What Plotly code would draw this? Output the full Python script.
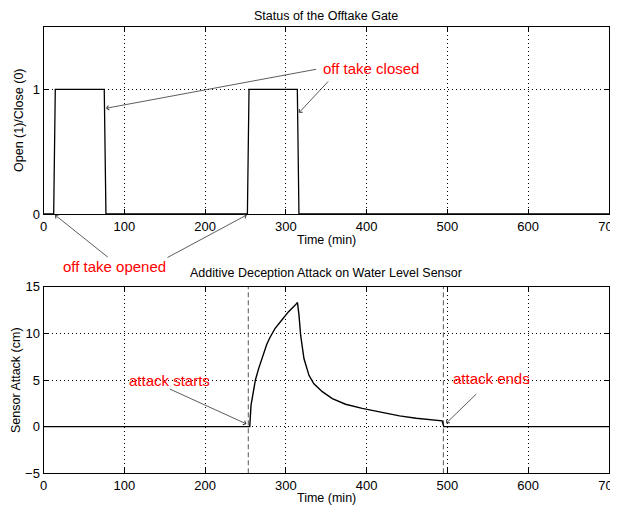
import plotly.graph_objects as go

# ---- data ----
gate_time = [0, 12.6, 14.6, 75.2, 77.3, 252.4, 254.4, 314.2, 316.2, 700]
gate_state = [0, 0, 1, 1, 0, 0, 1, 1, 0, 0]

attack_time = [0, 255.3, 256.9, 259.4, 262.3, 266.4, 272.6, 276.3, 280, 286.5, 294.8,
               303.1, 311.3, 314.4, 316.2, 318.3, 322.4, 328.6, 334.7, 345.1, 357.5,
               373.9, 394.5, 423.4, 440.7, 461.3, 481.8, 493.4, 495.5, 700]
attack_value = [0, 0, 2.3, 3.75, 5.0, 6.25, 7.86, 8.8, 9.5, 10.5, 11.4,
                12.3, 13.0, 13.3, 12.0, 9.8, 7.3, 5.5, 4.6, 3.75, 3.0,
                2.4, 1.96, 1.43, 1.15, 0.9, 0.72, 0.62, 0.0, 0]

attack_start = 253.5
attack_end = 495.0

x_ticks = [0, 100, 200, 300, 400, 500, 600, 700]
gate_ticks = [0, 1]
attack_ticks = [-5, 0, 5, 10, 15]

FONT = "Liberation Sans, Arial, Helvetica, sans-serif"
OFF = 8  # page body margin
W, H = 618 - OFF, 508 - OFF

fig = go.Figure()
fig.add_trace(go.Scatter(x=gate_time, y=gate_state, mode="lines",
                         line=dict(color="black", width=1.3),
                         xaxis="x", yaxis="y", showlegend=False))
for xv in (attack_start, attack_end):
    fig.add_trace(go.Scatter(x=[xv, xv], y=[attack_ticks[0], attack_ticks[-1]], mode="lines",
                             line=dict(color="#555555", width=1, dash="5px,3px"),
                             xaxis="x2", yaxis="y2", showlegend=False))
fig.add_trace(go.Scatter(x=attack_time, y=attack_value, mode="lines",
                         line=dict(color="black", width=1.4),
                         xaxis="x2", yaxis="y2", showlegend=False))

def px2paper_x(p):
    return (p - OFF) / W

def px2paper_y(p):
    return 1 - (p - OFF) / H

axis_common = dict(showline=True, linecolor="black", linewidth=1, mirror="allticks",
                   ticks="inside", ticklen=5, tickcolor="black",
                   showgrid=True, gridcolor="black", gridwidth=1, griddash="1px,3px",
                   zeroline=False, automargin=False, ticklabeloverflow="allow",
                   tickfont=dict(family=FONT, size=13, color="black"))

fig.update_layout(
    width=W, height=H, margin=dict(l=0, r=0, t=0, b=0),
    paper_bgcolor="white", plot_bgcolor="white",
    font=dict(family=FONT, size=12.5, color="black"),
    xaxis=dict(domain=[px2paper_x(43.5), px2paper_x(609)], range=[0, 700],
               tickvals=x_ticks, anchor="y", **axis_common),
    yaxis=dict(domain=[px2paper_y(214), px2paper_y(27)], range=[0, 1.5],
               tickvals=gate_ticks, anchor="x", **axis_common),
    xaxis2=dict(domain=[px2paper_x(43.5), px2paper_x(609)], range=[0, 700],
                tickvals=x_ticks, anchor="y2", **axis_common),
    yaxis2=dict(domain=[px2paper_y(473.3), px2paper_y(286.7)], range=[-5, 15],
                tickvals=attack_ticks, anchor="x2", **axis_common),
)

ann = []

def txt(x, y, s, size=12.5, color="black", angle=0):
    ann.append(dict(x=px2paper_x(x), y=px2paper_y(y), xref="paper", yref="paper",
                    text=s, showarrow=False, textangle=angle,
                    font=dict(family=FONT, size=size, color=color),
                    xanchor="center", yanchor="middle"))

txt(326, 15.5, "Status of the Offtake Gate")
txt(326, 240, "Time (min)")
txt(19.5, 120.5, "Open (1)/Close (0)", angle=-90)
txt(326, 272.5, "Additive Deception Attack on Water Level Sensor")
txt(326, 497.5, "Time (min)")
txt(16, 380, "Sensor Attack (cm)", angle=-90)

def red(x, y, s, xr, yr):
    ann.append(dict(x=x, y=y, xref=xr, yref=yr, text=s, showarrow=False,
                    font=dict(family=FONT, size=15, color="#ff0000"),
                    xanchor="center", yanchor="middle"))

red(406, 1.171, "off take closed", "x", "y")
red(156.4, 5.0, "attack starts", "x2", "y2")
red(554, 5.19, "attack ends", "x2", "y2")
# label between the panels (outside the axis ranges) placed in paper coordinates
ann.append(dict(x=px2paper_x(114.7), y=px2paper_y(266.7), xref="paper", yref="paper",
                text="off take opened", showarrow=False,
                font=dict(family=FONT, size=15, color="#ff0000"),
                xanchor="center", yanchor="middle"))

def arrow(hx, hy, tx, ty, xr, yr):
    ann.append(dict(x=hx, y=hy, ax=tx, ay=ty, xref=xr, yref=yr, axref=xr, ayref=yr,
                    text="", showarrow=True, arrowhead=4, arrowsize=1.1, arrowwidth=0.8,
                    arrowcolor="#333333", standoff=0, startstandoff=0))

def arrow_px(hx, hy, tx, ty):
    ann.append(dict(x=px2paper_x(hx), y=px2paper_y(hy), xref="paper", yref="paper",
                    ax=tx - hx, ay=ty - hy, axref="pixel", ayref="pixel",
                    text="", showarrow=True, arrowhead=4, arrowsize=1.1, arrowwidth=0.8,
                    arrowcolor="#333333", standoff=0, startstandoff=0))

arrow(77.3, 0.848, 339.3, 1.163, "x", "y")
arrow(316.2, 0.812, 354.1, 1.075, "x", "y")
arrow_px(55, 215, 109.3, 258.3)
arrow_px(246.7, 215, 166, 258.3)
arrow(251.2, 0.29, 154.3, 4.11, "x2", "y2")
arrow(498.4, 0.36, 537.5, 3.64, "x2", "y2")

fig.update_layout(annotations=ann)
fig.write_html("out.html")
